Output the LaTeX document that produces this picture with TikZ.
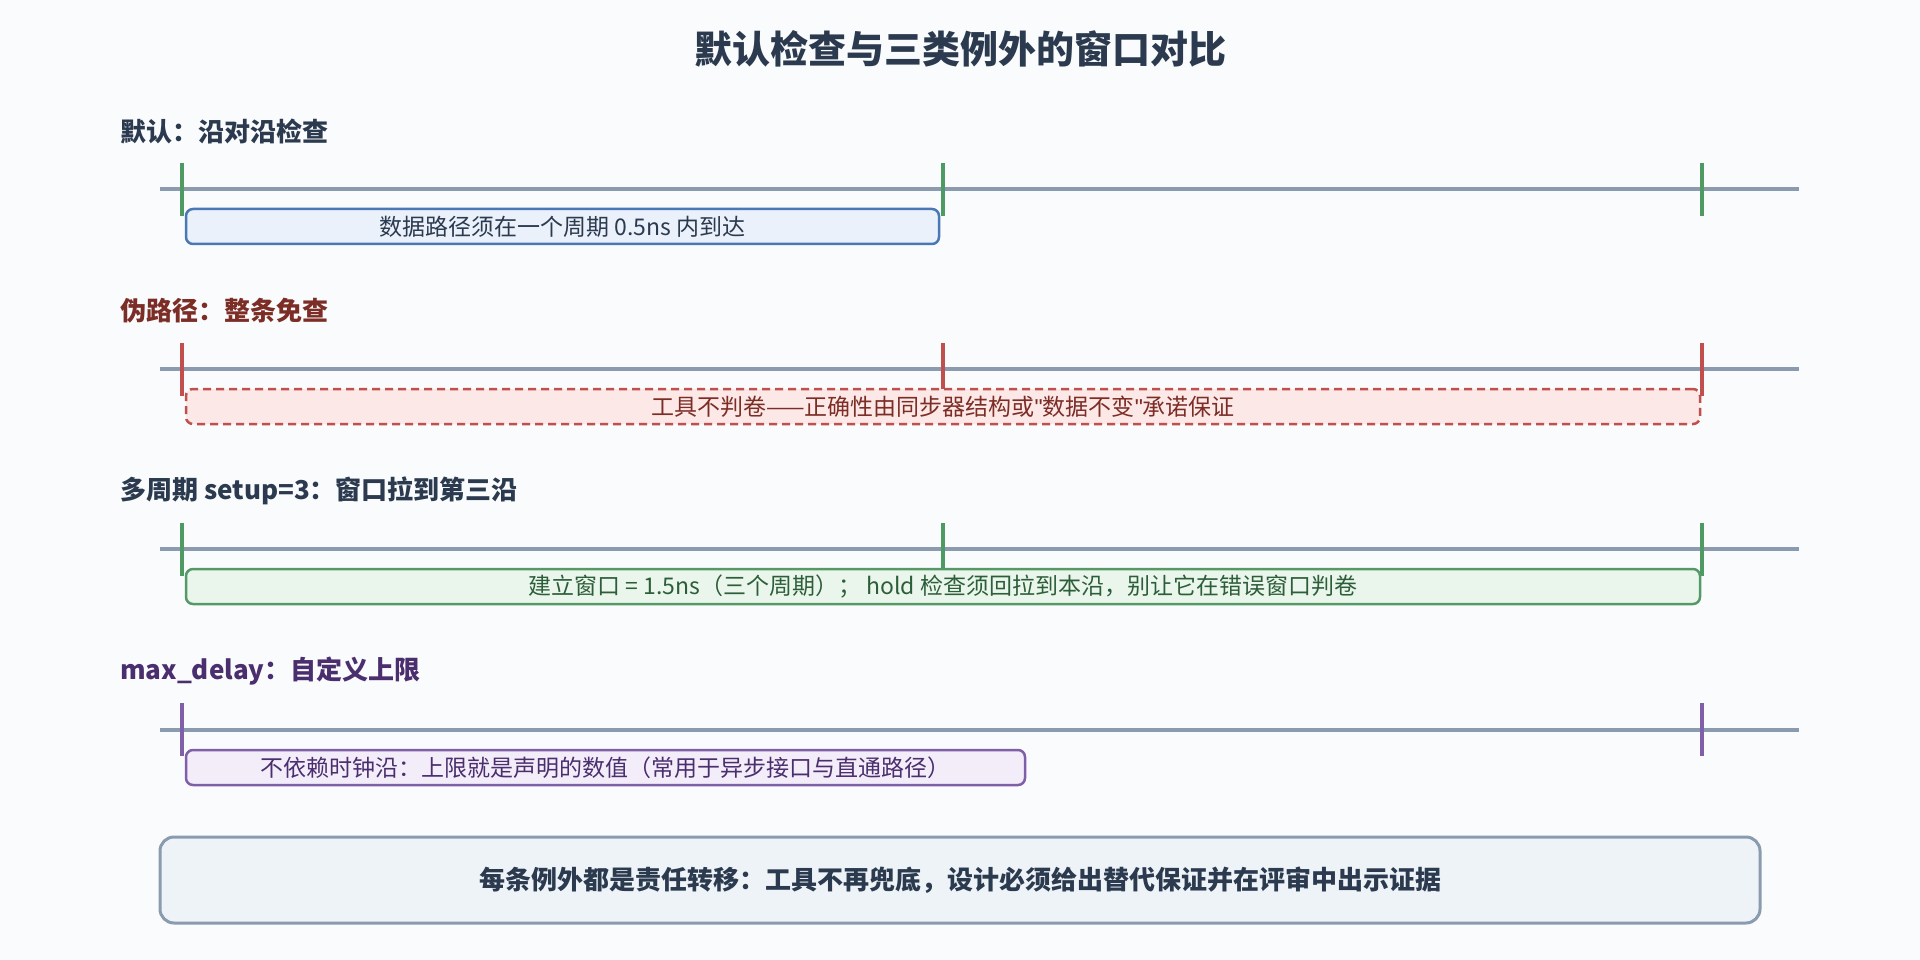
\documentclass[tikz,border=0pt]{standalone}
\usepackage{fontspec}
\setmainfont{Noto Sans CJK SC}
\newfontfamily\latinf{Liberation Sans}
\definecolor{bgc}{HTML}{F9FBFD}
\definecolor{ink}{HTML}{2B3A4E}
\definecolor{axis}{HTML}{8A9BB0}
\definecolor{tgreen}{HTML}{4F9A63}
\definecolor{tred}{HTML}{C0504D}
\definecolor{tpurple}{HTML}{7E5FA8}
\definecolor{dred}{HTML}{7B2D26}
\definecolor{dgreen}{HTML}{2D5E3A}
\definecolor{dpurple}{HTML}{4A2E6E}
\definecolor{bluefill}{HTML}{EAF1FB}
\definecolor{blueline}{HTML}{4A78B5}
\definecolor{redfill}{HTML}{FCE8E6}
\definecolor{greenfill}{HTML}{EAF6EC}
\definecolor{greenline}{HTML}{559966}
\definecolor{purplefill}{HTML}{F3ECF9}
\definecolor{notefill}{HTML}{EEF3F7}
\tikzset{
  titlestyle/.style={font=\fontsize{38}{44}\selectfont\bfseries, text=ink},
  seclabel/.style={anchor=west, font=\fontsize{26}{30}\selectfont\bfseries, inner sep=0pt},
  axisline/.style={draw=axis, line width=4pt},
  tickmark/.style={line width=4pt},
  winbox/.style={rounded corners=7pt, line width=2.5pt, minimum height=35pt, inner sep=0pt, font=\fontsize{23}{26}\selectfont},
  notebox/.style={rounded corners=14pt, line width=3pt, draw=axis, fill=notefill, minimum width=1600pt, minimum height=86pt, font=\fontsize{26}{30}\selectfont\bfseries, text=ink}
}
\begin{document}
\begin{tikzpicture}[x=1pt,y=-1pt]
\fill[bgc] (0,0) rectangle (1920,960);
\useasboundingbox (0,0) rectangle (1920,960);
\node[titlestyle] (title) at (960,49) {默认检查与三类例外的窗口对比};

% Row 1: default
\node[seclabel, text=ink] (lab1) at (120,131) {默认：沿对沿检查};
\draw[axisline] (160,189) -- (1799,189);
\draw[tickmark, draw=tgreen] (182,163) -- (182,216);
\draw[tickmark, draw=tgreen] (943,163) -- (943,216);
\draw[tickmark, draw=tgreen] (1702,163) -- (1702,216);
\node[winbox, draw=blueline, fill=bluefill, text=ink, minimum width=753pt] (box1) at (562.5,226.5) {数据路径须在一个周期 0.5ns 内到达};

% Row 2: false path
\node[seclabel, text=dred] (lab2) at (120,311) {伪路径：整条免查};
\draw[axisline] (160,369) -- (1799,369);
\draw[tickmark, draw=tred] (182,343) -- (182,396);
\draw[tickmark, draw=tred] (943,343) -- (943,396);
\draw[tickmark, draw=tred] (1702,343) -- (1702,396);
\node[winbox, draw=tred, fill=redfill, text=dred, dash pattern=on 8pt off 5pt, minimum width=1514pt] (box2) at (943,406.5) {工具不判卷——正确性由同步器结构或{\latinf"}数据不变{\latinf"}承诺保证};

% Row 3: multicycle
\node[seclabel, text=ink] (lab3) at (120,491) {多周期 setup=3：窗口拉到第三沿};
\draw[axisline] (160,549) -- (1799,549);
\draw[tickmark, draw=tgreen] (182,523) -- (182,576);
\draw[tickmark, draw=tgreen] (943,523) -- (943,576);
\draw[tickmark, draw=tgreen] (1702,523) -- (1702,576);
\node[winbox, draw=greenline, fill=greenfill, text=dgreen, minimum width=1514pt] (box3) at (943,586.5) {建立窗口 = 1.5ns（三个周期）； hold 检查须回拉到本沿，别让它在错误窗口判卷};

% Row 4: max_delay
\node[seclabel, text=dpurple] (lab4) at (120,671) {max\_delay：自定义上限};
\draw[axisline] (160,730) -- (1799,730);
\draw[tickmark, draw=tpurple] (182,703) -- (182,756);
\draw[tickmark, draw=tpurple] (1702,703) -- (1702,756);
\node[winbox, draw=tpurple, fill=purplefill, text=dpurple, minimum width=839pt] (box4) at (605.5,767.5) {不依赖时钟沿：上限就是声明的数值（常用于异步接口与直通路径）};

% Note
\node[notebox] (note) at (960,880) {每条例外都是责任转移：工具不再兜底，设计必须给出替代保证并在评审中出示证据};
\end{tikzpicture}
\end{document}
